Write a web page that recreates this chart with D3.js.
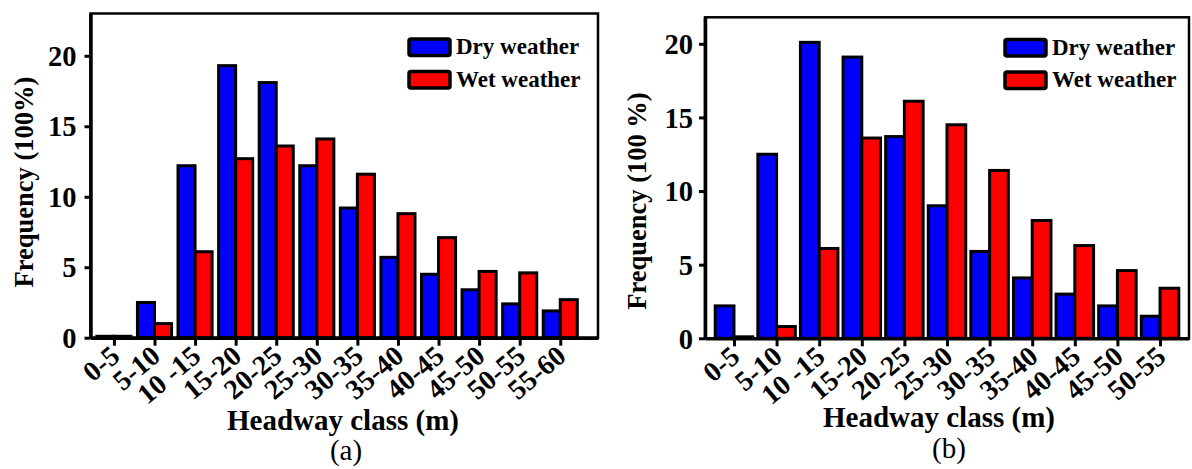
<!DOCTYPE html>
<html>
<head>
<meta charset="utf-8">
<script src="https://cdn.jsdelivr.net/npm/d3@7"></script>
<style>
  body { margin: 0; background: #fff; }
</style>
</head>
<body>
<svg id="chart" width="1192" height="469" font-family="Liberation Serif, Times New Roman, DejaVu Serif, serif"></svg>
<script>
// headway classes (m)
const categoriesA = ['0-5', '5-10', '10 -15', '15-20', '20-25', '25-30', '30-35', '35-40', '40-45', '45-50', '50-55', '55-60'];
const dryA = [0.1, 2.5, 12.2, 19.3, 18.1, 12.2, 9.2, 5.7, 4.5, 3.4, 2.4, 1.9];
const wetA = [0.1, 1.0, 6.1, 12.7, 13.6, 14.1, 11.6, 8.8, 7.1, 4.7, 4.6, 2.7];

const categoriesB = ['0-5', '5-10', '10 -15', '15-20', '20-25', '25-30', '30-35', '35-40', '40-45', '45-50', '50-55'];
const dryB = [2.2, 12.5, 20.1, 19.1, 13.7, 9.0, 5.9, 4.1, 3.0, 2.2, 1.5];
const wetB = [0.1, 0.8, 6.1, 13.6, 16.1, 14.5, 11.4, 8.0, 6.3, 4.6, 3.4];

const yTicks = [0, 5, 10, 15, 20];
const seriesNames = ['Dry weather', 'Wet weather'];
const seriesColors = ['#0000ff', '#ff0000'];

const serif = 'Liberation Serif, Times New Roman, DejaVu Serif, serif';
const svg = d3.select('#chart');

function drawPanel(p) {
  const g = svg.append('g');

  const x = d3.scaleLinear()
    .domain(p.xDomain)
    .range([p.left, p.right]);

  const y = d3.scaleLinear()
    .domain([0, p.yMax])
    .range([p.bottom, p.top]);

  const bw = x(p.barWidth) - x(0);

  // frame
  g.append('rect')
    .attr('x', p.left)
    .attr('y', p.top)
    .attr('width', p.right - p.left)
    .attr('height', p.bottom - p.top)
    .attr('fill', 'none')
    .attr('stroke', '#000')
    .attr('stroke-width', 2.5);

  // bars
  [p.dry, p.wet].forEach((vals, s) => {
    g.append('g')
      .selectAll('rect')
      .data(vals)
      .join('rect')
        .attr('x', (d, i) => s === 0 ? x(i) - bw : x(i))
        .attr('y', d => y(d))
        .attr('width', bw)
        .attr('height', d => y(0) - y(d))
        .attr('fill', seriesColors[s])
        .attr('stroke', '#000')
        .attr('stroke-width', 3);
  });

  // x axis
  const xAxis = g.append('g')
    .attr('transform', `translate(0,${p.bottom})`)
    .call(d3.axisBottom(x)
      .tickValues(d3.range(p.cats.length))
      .tickFormat(i => p.cats[i])
      .tickSize(8)
      .tickSizeOuter(0))
    .attr('font-family', serif);
  xAxis.select('.domain').attr('stroke-width', 3.5);
  xAxis.selectAll('.tick line').attr('stroke-width', 3);
  xAxis.selectAll('.tick text')
    .attr('x', 0).attr('y', 0).attr('dy', 0)
    .attr('text-anchor', 'end')
    .attr('transform', 'translate(7,21) rotate(-40)')
    .attr('font-size', 28)
    .attr('font-weight', 'bold')
    .attr('fill', '#000');

  // y axis
  const yAxis = g.append('g')
    .attr('transform', `translate(${p.left},0)`)
    .call(d3.axisLeft(y)
      .tickValues(yTicks)
      .tickSize(6)
      .tickPadding(p.yPad)
      .tickSizeOuter(0))
    .attr('font-family', serif);
  yAxis.select('.domain').attr('stroke-width', 3.5);
  yAxis.selectAll('.tick line').attr('stroke-width', 3);
  yAxis.selectAll('.tick text')
    .attr('font-size', 28.5)
    .attr('font-weight', 'bold')
    .attr('dy', '0.34em')
    .attr('fill', '#000');

  // axis titles
  g.append('text')
    .attr('transform', `translate(${p.yTitleX},${p.yTitleY}) rotate(-90)`)
    .attr('text-anchor', 'middle')
    .attr('font-family', serif)
    .attr('font-size', 26.5)
    .attr('font-weight', 'bold')
    .text(p.yTitle);

  g.append('text')
    .attr('x', p.xTitleX)
    .attr('y', p.xTitleY)
    .attr('text-anchor', 'middle')
    .attr('font-family', serif)
    .attr('font-size', 29)
    .attr('font-weight', 'bold')
    .text('Headway class (m)');

  g.append('text')
    .attr('x', p.capX)
    .attr('y', p.capY)
    .attr('text-anchor', 'middle')
    .attr('font-family', serif)
    .attr('font-size', 29)
    .text(p.caption);

  // legend
  const lg = g.append('g')
    .attr('transform', `translate(${p.legX},${p.legY})`);
  seriesNames.forEach((name, s) => {
    lg.append('rect')
      .attr('x', 0)
      .attr('y', s * 32.5)
      .attr('width', 41)
      .attr('height', 16.5)
      .attr('rx', 2)
      .attr('fill', seriesColors[s])
      .attr('stroke', '#000')
      .attr('stroke-width', 3.5);
    lg.append('text')
      .attr('x', 47)
      .attr('y', s * 32.5 + 15)
      .attr('font-family', serif)
      .attr('font-size', 23)
      .attr('font-weight', 'bold')
      .text(name);
  });
}

drawPanel({
  cats: categoriesA, dry: dryA, wet: wetA,
  left: 90.5, right: 598, top: 13.5, bottom: 337.7,
  xDomain: [-0.577, 11.93], yMax: 23, barWidth: 0.42, yPad: 8,
  yTitle: 'Frequency (100%)', yTitleX: 33, yTitleY: 182,
  xTitleX: 343, xTitleY: 430,
  caption: '(a)', capX: 346, capY: 460,
  legX: 409, legY: 39
});

drawPanel({
  cats: categoriesB, dry: dryB, wet: wetB,
  left: 705, right: 1189, top: 17.3, bottom: 338.3,
  xDomain: [-0.68, 10.68], yMax: 21.8, barWidth: 0.44, yPad: 6,
  yTitle: 'Frequency (100 %)', yTitleX: 646, yTitleY: 201,
  xTitleX: 939, xTitleY: 427,
  caption: '(b)', capX: 949, capY: 458,
  legX: 1005, legY: 39.5
});
</script>
</body>
</html>
